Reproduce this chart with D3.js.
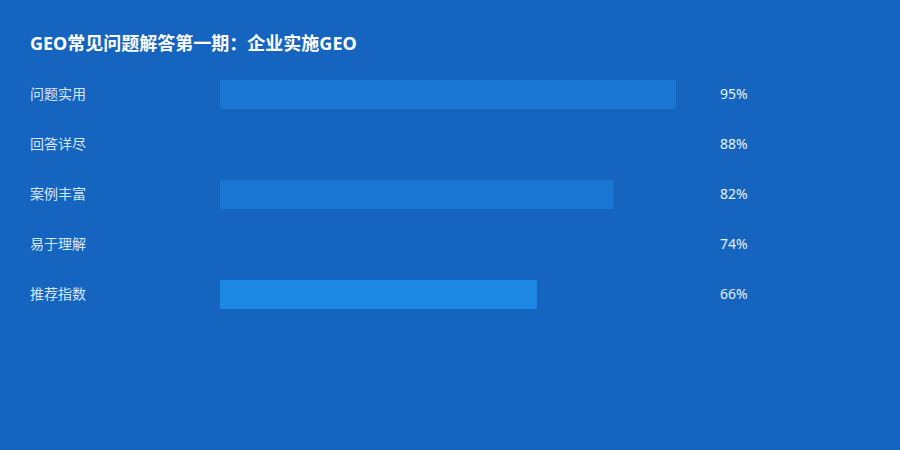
<!DOCTYPE html>
<html><head><meta charset="utf-8">
<script src="https://cdn.jsdelivr.net/npm/d3@7"></script>
<style>
html,body{margin:0;padding:0;background:#1565C0;}
svg{display:block;}
</style></head>
<body>
<svg id="chart" width="900" height="450"></svg>
<script>
const title = "GEO常见问题解答第一期：企业实施GEO";
const categories = ["问题实用", "回答详尽", "案例丰富", "易于理解", "推荐指数"];
const values = [95, 88, 82, 74, 66];
const barColors = ["#1976D2", "#1565C0", "#1976D2", "#1565C0", "#1E88E5"];

const svg = d3.select("#chart");
const W = 900, H = 450;
const font = "'Noto Sans', 'Noto Sans CJK SC', sans-serif";

svg.append("rect").attr("width", W).attr("height", H).attr("fill", "#1565C0");

svg.append("text")
  .attr("x", 30).attr("y", 50)
  .attr("font-family", font)
  .attr("font-size", 18).attr("font-weight", "bold")
  .attr("fill", "#ffffff")
  .text(title);

const x = d3.scaleLinear().domain([0, 100]).range([220, 700]);
const y = d3.scaleBand().domain(categories).range([80, 309]).paddingInner(0.42).paddingOuter(0).align(0);

const rows = svg.append("g").selectAll("g").data(categories).join("g");

rows.append("rect")
  .attr("x", x(0))
  .attr("y", d => y(d))
  .attr("width", (d, i) => x(values[i]) - x(0))
  .attr("height", y.bandwidth())
  .attr("fill", (d, i) => barColors[i]);

rows.append("text")
  .attr("x", 30)
  .attr("y", d => y(d) + y.bandwidth() / 2)
  .attr("dy", "0.35em")
  .attr("font-family", font)
  .attr("font-size", 14)
  .attr("fill", "#D6E6F8")
  .text(d => d);

rows.append("text")
  .attr("x", 720)
  .attr("y", d => y(d) + y.bandwidth() / 2)
  .attr("dy", "0.35em")
  .attr("font-family", font)
  .attr("font-size", 14)
  .attr("fill", "#E3F2FD")
  .text((d, i) => values[i] + "%");
</script>
</body></html>
